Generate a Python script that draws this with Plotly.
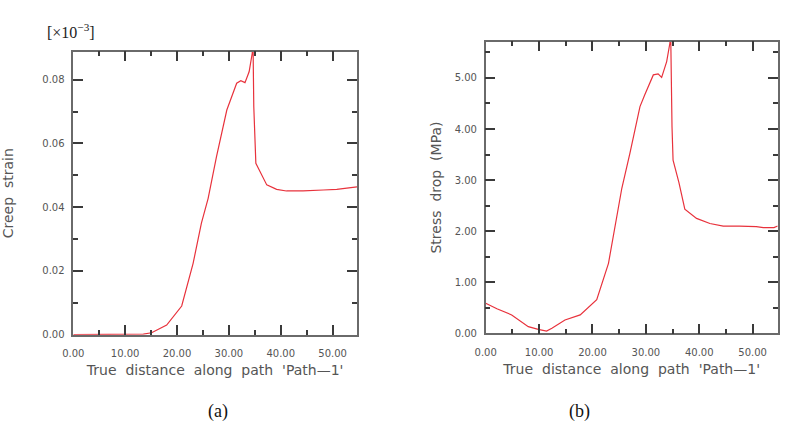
import plotly.graph_objects as go

# Panel (a): creep strain (x 10^-3) vs distance
a_x = [0, 5, 10, 12.5, 13.5, 15.1, 18.0, 20.9, 23.1, 24.7, 26.0, 27.6, 29.6, 31.5, 32.3, 33.1,
       33.9, 34.5, 34.65, 34.8, 35.0, 35.2, 37.3, 39.2, 41.1, 44.3, 48.2, 50.8, 54.7]
a_y = [0, 0, 0, 0, 0.0002, 0.0006, 0.003, 0.009, 0.0224, 0.035, 0.0428, 0.0558, 0.0705, 0.0789,
       0.0797, 0.0791, 0.0825, 0.0883, 0.092, 0.0715, 0.060, 0.0538, 0.047, 0.0456, 0.0451,
       0.0451, 0.0454, 0.0456, 0.0464]

# Panel (b): stress drop (MPa) vs distance
b_x = [0, 2.1, 4.87, 7.98, 9.85, 11.4, 12.4, 14.85, 17.7, 20.8, 23.0, 24.8, 25.5, 27.0, 28.9,
       29.8, 31.4, 32.3, 32.96, 33.9, 34.5, 34.65, 34.75, 34.9, 35.1, 36.2, 37.3, 39.5, 42.0,
       44.5, 47.5, 50.7, 52.0, 54.0, 54.7]
b_y = [0.59, 0.48, 0.36, 0.13, 0.078, 0.045, 0.10, 0.26, 0.36, 0.66, 1.37, 2.41, 2.84, 3.52,
       4.44, 4.67, 5.06, 5.08, 5.01, 5.32, 5.68, 5.9, 4.37, 4.05, 3.39, 2.95, 2.43, 2.25, 2.15,
       2.10, 2.10, 2.09, 2.07, 2.07, 2.10]

NB = "\u00a0"
x_title = f"True{NB}{NB}distance{NB}{NB}along{NB}{NB}path{NB}{NB}'Path\u20141'"
ya_title = f"Creep{NB}{NB}strain"
yb_title = f"Stress{NB}{NB}drop{NB}{NB}(MPa)"

W, H = 793, 422
def px(x): return x / W
def py(y): return (H - y) / H

LINE = "#e8323c"
FRAME = "#6a6a6a"
TICKC = "#3a3a3a"
LABC = "#555555"
FONT = "DejaVu Sans"

fig = go.Figure()
fig.add_trace(go.Scatter(x=a_x, y=a_y, mode="lines", line=dict(color=LINE, width=1.2),
                         xaxis="x", yaxis="y", showlegend=False))
fig.add_trace(go.Scatter(x=b_x, y=b_y, mode="lines", line=dict(color=LINE, width=1.2),
                         xaxis="x2", yaxis="y2", showlegend=False))

def xax(domain, anchor):
    return dict(domain=domain, anchor=anchor, range=[0, 54.7], dtick=10, tick0=0,
                tickformat=".2f", ticks="inside", ticklen=10, tickwidth=1.5, tickcolor=TICKC,
                minor=dict(ticks="inside", ticklen=5, dtick=5, tickwidth=1.5, tickcolor=TICKC),
                showline=True, linecolor=FRAME, linewidth=1.5, mirror="allticks",
                showgrid=False, zeroline=False, automargin=False,
                tickfont=dict(family=FONT, size=10, color=LABC), ticklabelstandoff=9,
                title=dict(text=x_title, font=dict(family=FONT, size=14, color=LABC), standoff=7))

def yax(domain, anchor, rng, dt, mdt, title, standoff):
    return dict(domain=domain, anchor=anchor, range=rng, dtick=dt, tick0=0,
                tickformat=".2f", ticks="inside", ticklen=10, tickwidth=1.5, tickcolor=TICKC,
                minor=dict(ticks="inside", ticklen=5, dtick=mdt, tickwidth=1.5, tickcolor=TICKC),
                showline=True, linecolor=FRAME, linewidth=1.5, mirror="allticks",
                showgrid=False, zeroline=False, automargin=False,
                tickfont=dict(family=FONT, size=10, color=LABC), ticklabelstandoff=5,
                title=dict(text=title, font=dict(family=FONT, size=14, color=LABC), standoff=standoff))

fig.update_layout(
    width=W, height=H, margin=dict(l=0, r=0, t=0, b=0),
    paper_bgcolor="white", plot_bgcolor="white",
    xaxis=xax([px(73.3), px(357)], "y"),
    yaxis=yax([py(334.7), py(51.7)], "x", [0, 0.0888], 0.02, 0.01, ya_title, 28),
    xaxis2=xax([px(485.7), px(777.7)], "y2"),
    yaxis2=yax([py(333.3), py(41.7)], "x2", [0, 5.71], 1, 0.5, yb_title, 10),
    annotations=[
        dict(text="[\u00d710<sup>\u22123</sup>]", x=px(71), y=py(31), xref="paper", yref="paper",
             xanchor="center", yanchor="middle",
             showarrow=False, font=dict(family="Liberation Serif", size=16, color="#222")),
        dict(text="(a)", x=px(218), y=py(411), xref="paper", yref="paper",
             xanchor="center", yanchor="middle",
             showarrow=False, font=dict(family="Liberation Serif", size=18, color="#111")),
        dict(text="(b)", x=px(579), y=py(411), xref="paper", yref="paper",
             xanchor="center", yanchor="middle",
             showarrow=False, font=dict(family="Liberation Serif", size=18, color="#111")),
    ],
)

fig.write_html("out.html")
